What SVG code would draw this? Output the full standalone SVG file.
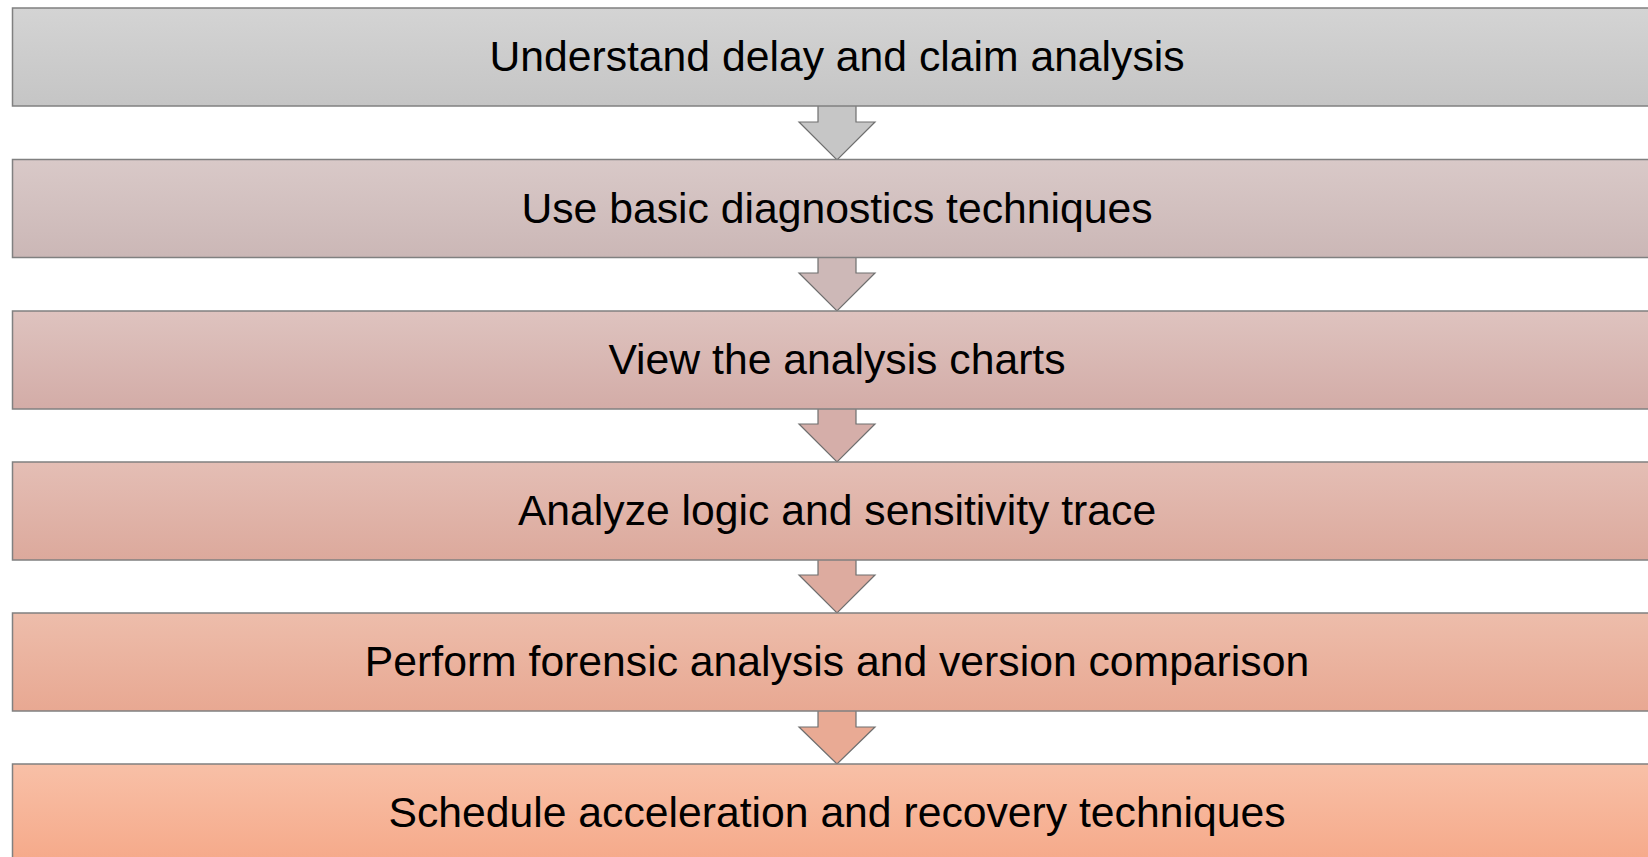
<svg xmlns="http://www.w3.org/2000/svg" width="1648" height="857" viewBox="0 0 1648 857">
<defs>
<linearGradient id="g1" x1="0" y1="0" x2="0" y2="1"><stop offset="0" stop-color="#d4d4d4"/><stop offset="1" stop-color="#c5c5c5"/></linearGradient>
<linearGradient id="g2" x1="0" y1="0" x2="0" y2="1"><stop offset="0" stop-color="#d9c9c8"/><stop offset="1" stop-color="#cbb7b6"/></linearGradient>
<linearGradient id="g3" x1="0" y1="0" x2="0" y2="1"><stop offset="0" stop-color="#dec3bf"/><stop offset="1" stop-color="#d3aca7"/></linearGradient>
<linearGradient id="g4" x1="0" y1="0" x2="0" y2="1"><stop offset="0" stop-color="#e4beb5"/><stop offset="1" stop-color="#dca99c"/></linearGradient>
<linearGradient id="g5" x1="0" y1="0" x2="0" y2="1"><stop offset="0" stop-color="#edbdab"/><stop offset="1" stop-color="#e8a892"/></linearGradient>
<linearGradient id="g6" x1="0" y1="0" x2="0" y2="1"><stop offset="0" stop-color="#f8c0a7"/><stop offset="1" stop-color="#f5a483"/></linearGradient>
</defs>
<style>
.box{stroke:#808080;stroke-width:1.5}
.lbl{font-family:"Liberation Sans",Arial,sans-serif;font-size:42.7px;fill:#000;text-anchor:middle}
.arr{stroke:#6f6f6f;stroke-width:1.2;stroke-linejoin:miter}
</style>
<rect x="0" y="0" width="1648" height="857" fill="#fff"/>
<g id="connectors">
<path class="arr" fill="#c6c6c6" d="M818 105 V122 H799 L837 160 L875 122 H856 V105 Z"/>
<path class="arr" fill="#cdb8b7" d="M818 256 V273 H799 L837 311 L875 273 H856 V256 Z"/>
<path class="arr" fill="#d5aea9" d="M818 408 V424 H799 L837 462 L875 424 H856 V408 Z"/>
<path class="arr" fill="#ddab9f" d="M818 559 V575 H799 L837 613 L875 575 H856 V559 Z"/>
<path class="arr" fill="#e9aa94" d="M818 710 V727 H799 L837 764 L875 727 H856 V710 Z"/>
</g>
<g id="n1"><rect class="box" x="12.5" y="8" width="1650" height="98" fill="url(#g1)"/><text class="lbl" x="837" y="71">Understand delay and claim analysis</text></g>
<g id="n2"><rect class="box" x="12.5" y="159.5" width="1650" height="98" fill="url(#g2)"/><text class="lbl" x="837" y="222.5">Use basic diagnostics techniques</text></g>
<g id="n3"><rect class="box" x="12.5" y="311" width="1650" height="98" fill="url(#g3)"/><text class="lbl" x="837" y="374">View the analysis charts</text></g>
<g id="n4"><rect class="box" x="12.5" y="462" width="1650" height="98" fill="url(#g4)"/><text class="lbl" x="837" y="525">Analyze logic and sensitivity trace</text></g>
<g id="n5"><rect class="box" x="12.5" y="613" width="1650" height="98" fill="url(#g5)"/><text class="lbl" x="837" y="676">Perform forensic analysis and version comparison</text></g>
<g id="n6"><rect class="box" x="12.5" y="764" width="1650" height="120" fill="url(#g6)"/><text class="lbl" x="837" y="827">Schedule acceleration and recovery techniques</text></g>
</svg>
